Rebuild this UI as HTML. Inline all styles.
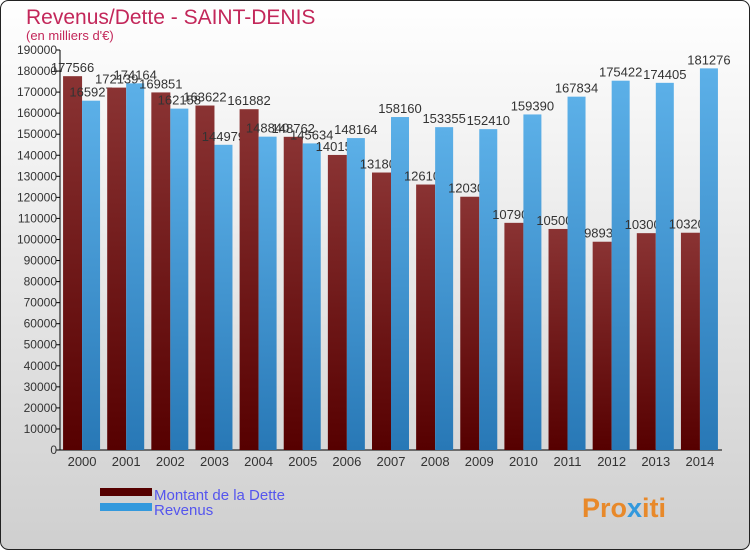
<!DOCTYPE html>
<html><head><meta charset="utf-8"><style>
body{margin:0;width:750px;height:550px;overflow:hidden;font-family:"Liberation Sans",sans-serif}
</style></head><body>
<svg width="750" height="550" xmlns="http://www.w3.org/2000/svg" font-family="Liberation Sans, sans-serif">
<defs>
<linearGradient id="bg" x1="0" y1="0" x2="0" y2="1"><stop offset="0" stop-color="#ffffff"/><stop offset="1" stop-color="#cfcfcf"/></linearGradient>
<linearGradient id="gr" x1="0" y1="0" x2="0" y2="1"><stop offset="0" stop-color="#8a3333"/><stop offset="1" stop-color="#560000"/></linearGradient>
<linearGradient id="gb" x1="0" y1="0" x2="0" y2="1"><stop offset="0" stop-color="#5cb0e8"/><stop offset="1" stop-color="#2878b6"/></linearGradient>
</defs>
<rect x="0.5" y="0.5" width="749" height="549" rx="8" fill="url(#bg)" stroke="#222"/>
<text x="26" y="24" font-size="21" fill="#c3275a">Revenus/Dette - SAINT-DENIS</text>
<text x="26" y="40" font-size="13" fill="#c3275a">(en milliers d'€)</text>
<g id="axes"></g>
<g id="bars"></g>
<rect x="100" y="488" width="52" height="8" fill="#560000"/>
<rect x="100" y="503" width="52" height="8" fill="#3399dd"/>
<text x="154" y="500" font-size="15" fill="#5555ee">Montant de la Dette</text>
<text x="154" y="515" font-size="15" fill="#5555ee">Revenus</text>
<text x="582" y="517" font-size="27" font-weight="bold" fill="#e8892a">Pro<tspan fill="#3399dd">x</tspan>iti</text>
</svg>
<script>
const years=["2000","2001","2002","2003","2004","2005","2006","2007","2008","2009","2010","2011","2012","2013","2014"];
const dette=[177566,172139,169851,163622,161882,148762,140150,131800,126100,120300,107900,105000,98930,103000,103200];
const revenus=[165927,174164,162158,144979,148840,145634,148164,158160,153355,152410,159390,167834,175422,174405,181276];
const ticks=[0,10000,20000,30000,40000,50000,60000,70000,80000,90000,100000,110000,120000,130000,140000,150000,160000,170000,180000,190000];
const NS="http://www.w3.org/2000/svg";
const x0=60,x1=722,yb=450,yt=50,ymax=190000;
const step=(x1-x0)/years.length;
const Y=v=>yb-(v/ymax)*(yb-yt);
const X=i=>x0+(i+0.5)*step;
function mk(tag,attrs,parent){const e=document.createElementNS(NS,tag);for(const k in attrs)e.setAttribute(k,attrs[k]);parent.appendChild(e);return e;}
const ax=document.getElementById('axes'),bg=document.getElementById('bars');
ticks.forEach(t=>{
 const l=mk('line',{x1:x0-4,x2:x0,y1:Y(t),y2:Y(t),stroke:'#000'},ax);
 
 
 const tx=mk('text',{x:x0-3,y:Y(t)+4,'font-size':12,'text-anchor':'end',fill:'#333'},ax);
 tx.textContent=t;
 
 
});
years.forEach((y,i)=>{
 const c=X(i);
 const r=mk('rect',{x:c-19,y:Y(dette[i]),width:19,height:yb-Y(dette[i]),fill:'url(#gr)'},bg);
 
 
 const rl=mk('text',{x:c-9.5,y:Y(dette[i])-4,'font-size':13,'text-anchor':'middle',fill:'#333'},bg);
 rl.textContent=dette[i];
 
 
 const b=mk('rect',{x:c,y:Y(revenus[i]),width:18,height:yb-Y(revenus[i]),fill:'url(#gb)'},bg);
 
 
 const bl=mk('text',{x:c+9,y:Y(revenus[i])-4,'font-size':13,'text-anchor':'middle',fill:'#333'},bg);
 bl.textContent=revenus[i];
 
 
 const xl=mk('text',{x:c,y:466,'font-size':13,'text-anchor':'middle',fill:'#333'},ax);
 xl.textContent=y;
 
 
});
const va=mk('line',{x1:x0,x2:x0,y1:yt,y2:yb,stroke:'#000'},ax);


const ha=mk('line',{x1:x0,x2:x1,y1:yb,y2:yb,stroke:'#000'},ax);


</script>
</body></html>
